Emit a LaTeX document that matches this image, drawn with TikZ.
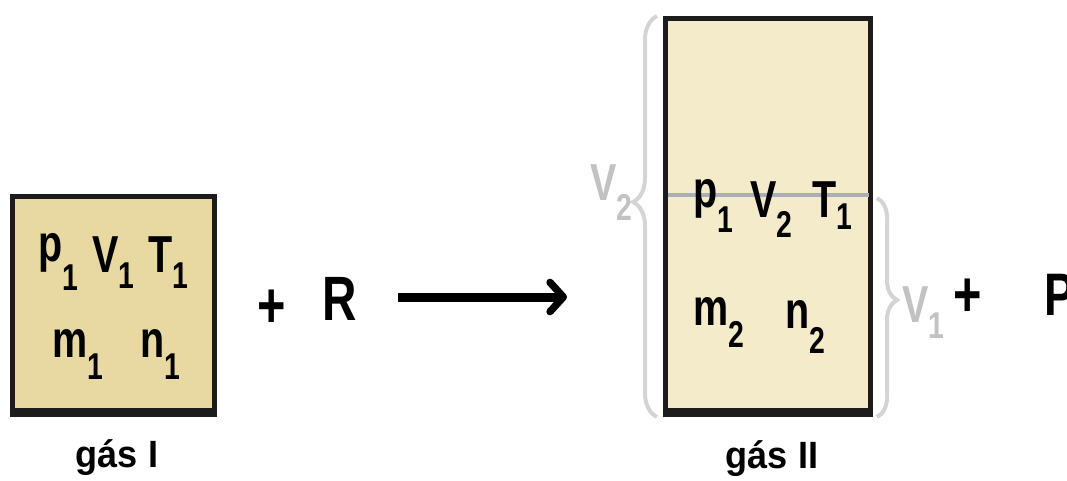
\documentclass[tikz,border=0pt]{standalone}
\usepackage{fontspec}
\setmainfont{Liberation Sans}
\newfontfamily\narrowfont[FakeStretch=0.76]{Liberation Sans}
\newfontfamily\labelfont[FakeStretch=0.95]{Liberation Sans}
\usetikzlibrary{arrows.meta,decorations.pathreplacing}
\definecolor{tanI}{HTML}{E8D8A2}
\definecolor{tanII}{HTML}{F4EBCB}
\definecolor{framecol}{HTML}{1C1C1C}
\definecolor{divider}{HTML}{A9AFBA}
\definecolor{bracegray}{HTML}{D4D4D4}
\definecolor{vgray}{HTML}{C2C2C2}
\newcommand{\symfont}{\narrowfont\bfseries\fontsize{39}{40}\selectfont}
\newcommand{\lowsub}[2][13.5pt]{\raisebox{-#1}{\fontsize{28}{28}\selectfont #2}}
\newcommand{\liftp}{\raisebox{8pt}{p}}
\tikzset{
  sym/.style={anchor=base west, inner sep=0pt, font=\symfont},
  vlabel/.style={sym, text=vgray},
  gasbox/.style={rectangle, draw=framecol, line width=3.75pt, inner sep=0pt, outer sep=0pt},
  bigsign/.style={anchor=base, inner sep=0pt, font=\narrowfont\bfseries\fontsize{48}{48}\selectfont},
  caption/.style={anchor=base, inner sep=0pt, font=\labelfont\bfseries\fontsize{28.5}{29}\selectfont},
  gasbrace/.style={draw=bracegray, line width=3pt, decorate},
}
\begin{document}
\begin{tikzpicture}[x=0.75pt, y=-0.75pt]
\useasboundingbox (0,0) rectangle (1067,481);
\clip (0,0) rectangle (1067,481);
% gas I box
\node[gasbox, fill=tanI, minimum width=151.5pt, minimum height=160.5pt] (boxI) at (113.5,303.5) {};
\fill[framecol] ([shift={(-2.5,-2.5)}]boxI.south west) rectangle ([shift={(2.5,6.5)}]boxI.south east);
% gas II box
\node[gasbox, fill=tanII, minimum width=153.75pt, minimum height=294pt] (boxII) at (768,214.5) {};
\fill[framecol] ([shift={(-2.5,-2.5)}]boxII.south west) rectangle ([shift={(2.5,6.5)}]boxII.south east);
\coordinate (divL) at (667.5,195);
\coordinate (divR) at (868.5,195);
\draw[divider, line width=3pt] (divL) -- (divR);
% texts in box I
\node[sym] (pI) at (38,272) {\liftp\lowsub{1}};
\node[sym] (VI) at (92,272) {V\lowsub[12pt]{1}};
\node[sym] (TI) at (148,272) {T\lowsub[12pt]{1}};
\node[sym] (mI) at (52,357) {m\lowsub[17pt]{1}};
\node[sym] (nI) at (140,357) {n\lowsub[17pt]{1}};
% texts in box II
\node[sym] (pII) at (693,218) {\liftp\lowsub[11pt]{1}};
\node[sym] (VII) at (750,218) {V\lowsub[15pt]{2}};
\node[sym] (TII) at (812,218) {T\lowsub[9pt]{1}};
\node[sym] (mII) at (693,325) {m\lowsub[17pt]{2}};
\node[sym] (nII) at (785,328) {n\lowsub[19pt]{2}};
% braces
\coordinate (lbB) at (657,417);
\coordinate (lbT) at (657,16);
\draw[gasbrace, decoration={brace, amplitude=18pt, aspect=0.536}] (lbB) -- (lbT);
\coordinate (rbT) at (877,198);
\coordinate (rbB) at (877,417);
\draw[gasbrace, decoration={brace, amplitude=15pt, aspect=0.466}] (rbT) -- (rbB);
\node[vlabel] (Vtwo) at (590,200) {V\lowsub[15pt]{2}};
\node[vlabel] (Vone) at (902,322) {V\lowsub[12pt]{1}};
% plus, R, arrow, P
\node[bigsign] (plusA) at (272,327) {+};
\node[anchor=base, inner sep=0pt, font=\narrowfont\bfseries\fontsize{47}{47}\selectfont] (R) at (340,320) {R};
\coordinate (arrS) at (398,297);
\coordinate (arrE) at (567,297);
\draw[line width=6.75pt, -{Straight Barb[length=10pt, width=22pt, line width=5.5pt, round]}] (arrS) -- (arrE);
\node[bigsign] (plusB) at (968,316) {+};
\node[anchor=base west, inner sep=0pt, font=\narrowfont\bfseries\fontsize{45}{45}\selectfont] (P) at (1044.5,315) {P};
% captions
\node[caption] (capI) at (117,467) {gás I};
\node[caption] (capII) at (772,468) {gás II};
\end{tikzpicture}
\end{document}
